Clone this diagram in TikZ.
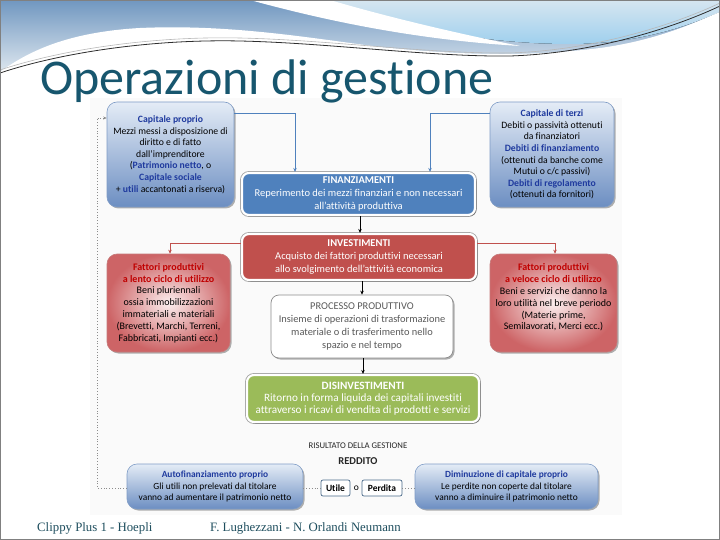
\documentclass[tikz,border=0pt]{standalone}
\usepackage{fontspec}
\setmainfont{Carlito}[Ligatures={TeX,NoCommon}]
\newfontfamily\footfont{Liberation Serif}
\usetikzlibrary{shadows,arrows.meta}
\definecolor{titleteal}{HTML}{17566E}
\definecolor{footteal}{HTML}{1E4E5E}
\definecolor{dkblue}{HTML}{1F3A9E}
\definecolor{dkred}{HTML}{C00000}
\definecolor{boxblue}{HTML}{4F81BD}
\definecolor{boxred}{HTML}{C0504D}
\definecolor{boxgreen}{HTML}{9BBB59}
\definecolor{txtgray}{HTML}{595959}
\definecolor{gbdraw}{HTML}{7F9CC6}
\definecolor{gbtop}{HTML}{E4ECF6}
\definecolor{gbbot}{HTML}{6C8EC2}
\definecolor{grdraw}{HTML}{C57A7A}
\definecolor{grin}{HTML}{FBEEEE}
\definecolor{grout}{HTML}{CD6466}
\definecolor{sbring}{HTML}{A0A0A0}
\definecolor{procdraw}{HTML}{8C8C8C}
\definecolor{smdraw}{HTML}{4A6A8A}
\definecolor{dotgray}{HTML}{8C8C8C}
\definecolor{bandtop}{HTML}{7097C0}
\definecolor{bandbot}{HTML}{E2EAF1}
\definecolor{skytop}{HTML}{D6E6F0}
\definecolor{skybot}{HTML}{9FD0EE}
\definecolor{linelight}{HTML}{B8B8B8}
\definecolor{linedark}{HTML}{2E2E2E}
\definecolor{framegray}{HTML}{808080}
\definecolor{areabg}{HTML}{FAFAFA}
\definecolor{nearblack}{HTML}{262626}
\newcommand\dgbody{\fontsize{9.7}{11.6}\selectfont}
\newcommand\dgred{\fontsize{10}{11.8}\selectfont}
\newcommand\dgbig{\fontsize{10.5}{12.8}\selectfont}
\newcommand\bluebf[1]{{\bfseries\color{dkblue}#1}}
\newcommand\redbf[1]{{\bfseries\color{dkred}#1}}
\begin{document}
\begin{tikzpicture}[x=1pt,y=-1pt,
  softshadow/.style={drop shadow={shadow xshift=1.5pt,shadow yshift=-1.5pt,opacity=0.3,fill=black}},
  gradblue/.style={rounded corners=10pt, draw=gbdraw, line width=0.6pt,
     top color=gbtop, bottom color=gbbot, softshadow,
     align=center, inner sep=1pt, font=\dgbody, text=black},
  gradred/.style={rounded corners=10pt, draw=grdraw, line width=0.6pt,
     inner color=grin, outer color=grout, softshadow,
     align=center, inner sep=1pt, font=\dgred, text=black},
  solidbox/.style={rounded corners=7pt, draw=white, line width=2.2pt,
     preaction={draw=sbring, line width=3.8pt}, softshadow,
     text=white, align=center, font=\dgbig, inner sep=1pt},
  procbox/.style={rounded corners=8pt, draw=procdraw, line width=0.7pt, fill=white,
     softshadow, text=txtgray, align=center, font=\fontsize{10.4}{13.2}\selectfont, inner sep=1pt},
  smallbox/.style={rounded corners=2pt, draw=smdraw, line width=0.7pt, fill=white,
     font=\bfseries\fontsize{9.5}{11}\selectfont, inner sep=1.5pt},
  blueline/.style={draw=boxblue, line width=0.9pt, -{Stealth[length=4pt,width=3.5pt]}},
  redline/.style={draw=boxred, line width=0.9pt, -{Stealth[length=4pt,width=3.5pt]}},
  blkline/.style={draw=black, line width=0.8pt, -{Stealth[length=4pt,width=3.5pt]}},
  dotline/.style={draw=dotgray, line width=0.8pt, dotted}
]
\useasboundingbox (0,0) rectangle (720,540);
% background decoration
\fill[white] (0,0) rectangle (720,540);
\fill[top color=bandtop, bottom color=bandbot] (0,0) rectangle (720,75);
\fill[top color=skytop, bottom color=skybot] (300,0) .. controls (390,25) and (480,44) .. (570,44) .. controls (640,44) and (690,25) .. (720,12) -- (720,0) -- cycle;
\fill[white] (250,0) .. controls (330,22) and (420,40) .. (520,46) .. controls (440,30) and (370,12) .. (330,0) -- cycle;
\fill[white] (0,72) .. controls (30,50) and (70,32) .. (140,28) .. controls (230,24) and (310,38) .. (380,47)
  .. controls (450,54) and (520,58) .. (600,48) .. controls (660,40) and (700,20) .. (720,12) -- (720,100) -- (0,100) -- cycle;
\draw[linelight, line width=0.6pt] (0,70) .. controls (60,50) and (150,36) .. (240,38) .. controls (330,40) and (430,54) .. (510,53) .. controls (600,50) and (680,22) .. (720,3);
\draw[linedark, line width=0.8pt] (0,73) .. controls (60,53) and (150,39) .. (240,41) .. controls (330,43) and (430,57) .. (510,56) .. controls (600,53) and (680,25) .. (720,6);
\draw[framegray, line width=1pt] (0.5,0.5) rectangle (719.5,539.5);
% diagram area
\fill[areabg] (90,98) rectangle (622,515);

% title
\node[anchor=base west, inner sep=0, text=titleteal, font=\fontsize{50}{50}\selectfont] (title) at (40,95) {Operazioni di gestione};

% boxes
\node[gradblue, minimum width=127pt, minimum height=105pt] (cp) at (170.5,154.5)
 {\bluebf{Capitale proprio}\\Mezzi messi a disposizione di\\diritto e di fatto\\dall'imprenditore\\(\bluebf{Patrimonio netto}, o\\\bluebf{Capitale sociale}\\+ \bluebf{utili} accantonati a riserva)};
\node[gradblue, minimum width=124pt, minimum height=105pt] (ct) at (552,154.5)
 {\bluebf{Capitale di terzi}\\Debiti o passività ottenuti\\da finanziatori\\\bluebf{Debiti di finanziamento}\\(ottenuti da banche come\\Mutui o c/c passivi)\\\bluebf{Debiti di regolamento}\\(ottenuti da fornitori)};
\node[solidbox, fill=boxblue, minimum width=233pt, minimum height=42pt] (fin) at (358.5,194)
 {\textbf{FINANZIAMENTI}\\Reperimento dei mezzi finanziari e non necessari\\all'attività produttiva};
\node[solidbox, fill=boxred, minimum width=234pt, minimum height=46pt] (inv) at (359,257)
 {\textbf{INVESTIMENTI}\\Acquisto dei fattori produttivi necessari\\allo svolgimento dell'attività economica};
\node[gradred, minimum width=123pt, minimum height=98pt] (lento) at (168.5,303)
 {\redbf{Fattori produttivi}\\\redbf{a lento ciclo di utilizzo}\\Beni pluriennali\\ossia immobilizzazioni\\immateriali e materiali\\(Brevetti, Marchi, Terreni,\\Fabbricati, Impianti ecc.)};
\node[gradred, minimum width=127pt, minimum height=98pt] (veloce) at (553.5,303)
 {\redbf{Fattori produttivi}\\\redbf{a veloce ciclo di utilizzo}\\Beni e servizi che danno la\\loro utilità nel breve periodo\\(Materie prime,\\Semilavorati, Merci ecc.)\\[-3pt]\strut};
\node[procbox, minimum width=182pt, minimum height=63pt] (proc) at (362,326.5)
 {PROCESSO PRODUTTIVO\\Insieme di operazioni di trasformazione\\materiale o di trasferimento nello\\spazio e nel tempo};
\node[solidbox, fill=boxgreen, minimum width=232pt, minimum height=47pt, font=\fontsize{11.2}{11.8}\selectfont] (dis) at (363,398.5)
 {\textbf{DISINVESTIMENTI}\\Ritorno in forma liquida dei capitali investiti\\attraverso i ricavi di vendita di prodotti e servizi};
\node[font=\fontsize{8.7}{10}\selectfont, text=nearblack] (ris) at (358,446) {RISULTATO DELLA GESTIONE};
\node[font=\bfseries\fontsize{10.5}{12}\selectfont, text=nearblack] (red) at (358,461) {REDDITO};
\node[gradblue, minimum width=176pt, minimum height=45pt, font=\fontsize{9.4}{11.5}\selectfont] (aut) at (215,486.5)
 {\bluebf{Autofinanziamento proprio}\\Gli utili non prelevati dal titolare\\vanno ad aumentare il patrimonio netto};
\node[gradblue, minimum width=183pt, minimum height=45pt, font=\fontsize{9.4}{11.5}\selectfont] (dim) at (506.5,486.5)
 {\bluebf{Diminuzione di capitale proprio}\\Le perdite non coperte dal titolare\\vanno a diminuire il patrimonio netto};
\node[smallbox, minimum width=29pt, minimum height=16pt] (utile) at (335.5,488) {Utile};
\node[font=\fontsize{9.5}{11}\selectfont, inner sep=0] (o) at (356.5,488) {o};
\node[smallbox, minimum width=40pt, minimum height=16pt] (perdita) at (382,488) {Perdita};

% connectors
\draw[blueline] (cp.east |- 0,113) -- (295,113) -- (fin.north -| 295,0);
\draw[blueline] (ct.west |- 0,113) -- (430,113) -- (fin.north -| 430,0);
\draw[blkline] (fin.south -| 360,0) -- (inv.north -| 360,0);
\draw[redline] (inv.west |- 0,243) -- (170,243) -- (lento.north -| 170,0);
\draw[redline] (inv.east |- 0,243) -- (555,243) -- (veloce.north -| 555,0);
\draw[blkline] (inv.south -| 362,0) -- (proc.north -| 362,0);
\draw[blkline] (proc.south -| 363,0) -- (dis.north -| 363,0);
\draw[dotline, -{Stealth[length=3.5pt,width=3pt]}] (aut.west |- 0,488) -- (97,488) -- (97,118) -- (cp.west |- 0,118);
\draw[dotline] (aut.east |- utile.west) -- (utile.west);
\draw[dotline] (perdita.east) -- (dim.west |- perdita.east);

% footer
\node[anchor=base west, inner sep=0, text=footteal, font=\footfont\fontsize{12.8}{13}\selectfont] (f1) at (37,531) {Clippy Plus 1 - Hoepli};
\node[anchor=base west, inner sep=0, text=footteal, font=\footfont\fontsize{12.8}{13}\selectfont] (f2) at (210,531) {F. Lughezzani - N. Orlandi Neumann};
\end{tikzpicture}
\end{document}
